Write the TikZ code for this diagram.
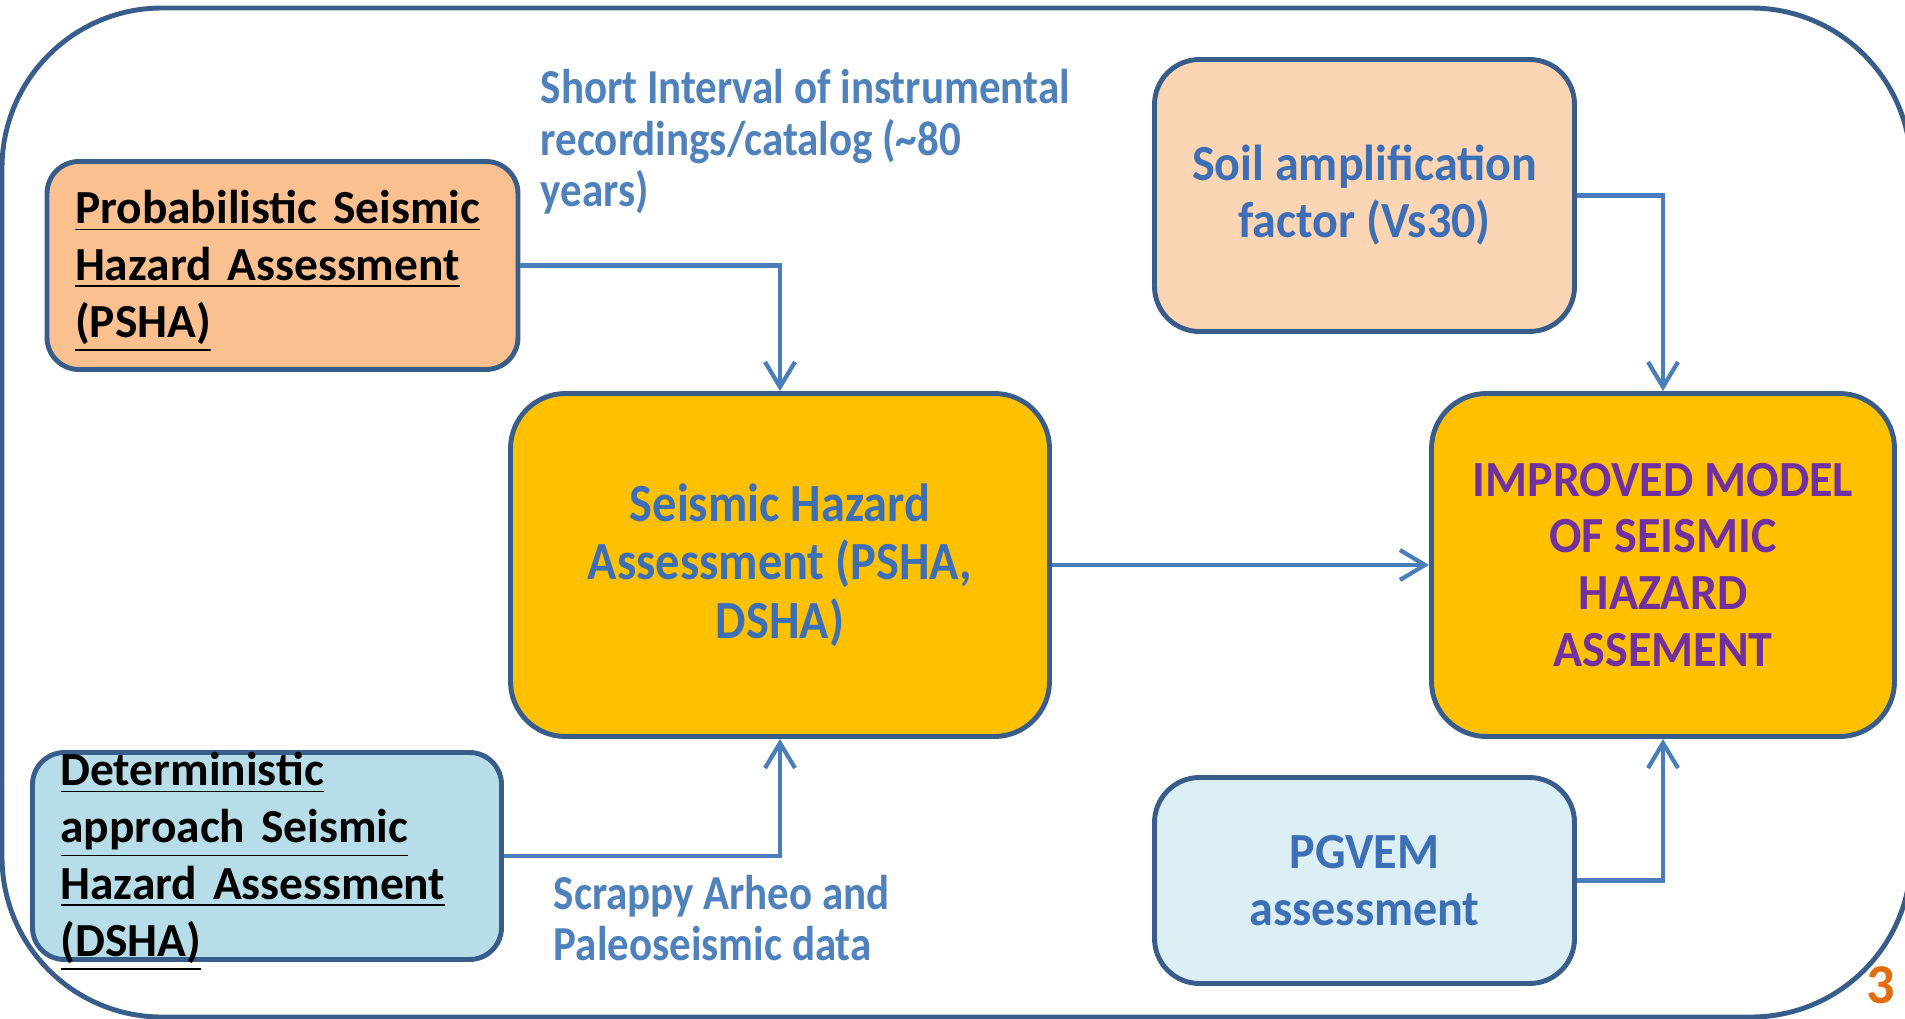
\documentclass[tikz,border=0pt]{standalone}
\usepackage{fontspec}
\setmainfont{Carlito}
\newfontfamily\notefont[FakeStretch=0.88]{Carlito}
\newfontfamily\hubfont[FakeStretch=0.9]{Carlito}
\newfontfamily\sidefont[FakeStretch=0.95]{Carlito}
\usetikzlibrary{arrows.meta}
\definecolor{frame}{HTML}{385D8A}
\definecolor{link}{HTML}{4A7EBB}
\definecolor{gold}{HTML}{FFC000}
\definecolor{peach}{HTML}{FAC090}
\definecolor{lightpeach}{HTML}{FCD5B5}
\definecolor{aqua}{HTML}{B7DEE8}
\definecolor{lightaqua}{HTML}{DBEEF4}
\definecolor{inkblue}{HTML}{3D6FB6}
\definecolor{noteblue}{HTML}{4F81BD}
\definecolor{modelpurple}{HTML}{7030A0}
\definecolor{pagenum}{HTML}{E46C0A}

\begin{document}
\begin{tikzpicture}[>={Straight Barb[length=0.25cm,width=0.3cm]},
  box/.style={draw=frame, line width=1.4pt, rounded corners=0.32cm, inner xsep=0.28cm, inner ysep=0pt, align=left, font=\fontsize{13.5}{16.2}\selectfont\bfseries},
  hub/.style={draw=frame, fill=gold, line width=1.4pt, rounded corners=0.55cm, inner sep=0pt, align=center, text=inkblue, font=\hubfont\fontsize{15.3}{16.6}\selectfont\bfseries},
  side/.style={draw=frame, line width=1.4pt, rounded corners=0.45cm, inner sep=0pt, align=center, text=inkblue, font=\sidefont\fontsize{14.4}{16.2}\selectfont\bfseries},
  note/.style={anchor=west, inner sep=0pt, align=left, text=noteblue, font=\notefont\fontsize{13.9}{14.6}\selectfont\bfseries},
  flow/.style={->, draw=link, line width=1.2pt}]
\useasboundingbox (0,0) rectangle (19.05,-10.19);
\draw[frame, line width=1.4pt, rounded corners=1.6cm] (0.02,-0.08) rectangle (19.11,-10.17);
% inputs on the left
\node[box, fill=peach, text width=4.15cm, minimum height=2.08cm] (PSHA) at (2.825,-2.655) {\rule{0pt}{0.45cm}\underline{Probabilistic Seismic}\\ \underline{Hazard Assessment}\\ \underline{(PSHA)}};
\node[box, fill=aqua, text width=4.13cm, minimum height=2.07cm, inner ysep=-0.3cm] (DSHA) at (2.67,-8.56) {\rule{0pt}{0.45cm}\underline{Deterministic}\\ \underline{approach Seismic}\\ \underline{Hazard Assessment}\\ \underline{(DSHA)}};
% main blocks
\node[hub, minimum width=5.39cm, minimum height=3.43cm] (SHA) at (7.80,-5.65) {Seismic Hazard\\ Assessment (PSHA,\\ DSHA)};
\node[hub, text=modelpurple, font=\sidefont\fontsize{14.4}{16.2}\selectfont\bfseries, minimum width=4.63cm, minimum height=3.43cm] (IMP) at (16.63,-5.65) {IMPROVED MODEL\\ OF SEISMIC\\ HAZARD\\ ASSEMENT};
% inputs on the right
\node[side, fill=lightpeach, minimum width=4.20cm, minimum height=2.72cm] (SOIL) at (13.645,-1.955) {Soil amplification\\ factor (Vs30)};
\node[side, fill=lightaqua, minimum width=4.20cm, minimum height=2.06cm] (PGVEM) at (13.645,-8.805) {PGVEM\\ assessment};
% notes
\node[note] (REC) at (5.40,-1.42) {Short Interval of instrumental\\ recordings/catalog (\textasciitilde80\\ years)};
\node[note] (ARC) at (5.53,-9.18) {Scrappy Arheo and\\ Paleoseismic data};
\node[inner sep=0pt, text=pagenum, font=\fontsize{16}{18}\selectfont\bfseries] (PAGE) at (18.81,-9.85) {3};
\draw[flow] (PSHA.east) -| (SHA.north);
\draw[flow] (DSHA.east) -| (SHA.south);
\draw[flow] (SHA.east) -- (IMP.west);
\draw[flow] (SOIL.east) -| (IMP.north);
\draw[flow] (PGVEM.east) -| (IMP.south);
\end{tikzpicture}
\end{document}
